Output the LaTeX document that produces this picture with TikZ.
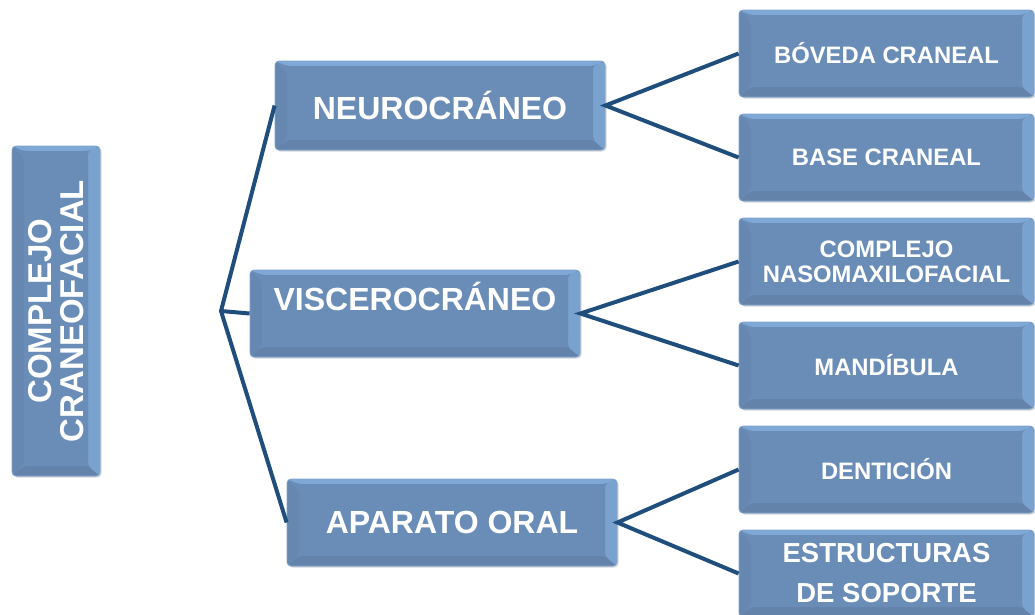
\documentclass[tikz,border=0pt]{standalone}
\usepackage{fontspec}
\setmainfont{Liberation Sans}
\usetikzlibrary{shadows}
\definecolor{boxmain}{HTML}{6A8DB8}
\definecolor{boxtop}{HTML}{80A8D6}
\definecolor{boxright}{HTML}{7AA2CF}
\definecolor{boxbottom}{HTML}{6483AA}
\definecolor{boxleft}{HTML}{6687B0}
\definecolor{boxedge}{HTML}{7FA3CC}
\definecolor{linkcol}{HTML}{1F4E7C}
\definecolor{shadowcol}{HTML}{C9CDD3}
\tikzset{
  x=1pt, y=-1pt,
  bevelbox/.style={rounded corners=4pt, fill=boxmain, draw=boxedge, line width=0.8pt,
    inner sep=0pt, align=center, text=white, font=\bfseries,
    drop shadow={shadow xshift=1.5pt, shadow yshift=-1.5pt, fill=shadowcol, opacity=0.8},
    path picture={
      \coordinate (nw) at (path picture bounding box.north west);
      \coordinate (ne) at (path picture bounding box.north east);
      \coordinate (sw) at (path picture bounding box.south west);
      \coordinate (se) at (path picture bounding box.south east);
      \fill[boxleft] (nw) -- ([xshift=12pt,yshift=-12pt]nw) -- ([xshift=12pt,yshift=12pt]sw) -- (sw) -- cycle;
      \fill[boxbottom] (sw) -- ([xshift=12pt,yshift=10pt]sw) -- ([xshift=-12pt,yshift=10pt]se) -- (se) -- cycle;
      \fill[boxright] (ne) -- ([xshift=-12pt,yshift=-5pt]ne) -- ([xshift=-12pt,yshift=10pt]se) -- (se) -- cycle;
      \fill[boxtop] (nw) -- (ne) -- ([xshift=-12pt,yshift=-5pt]ne) -- ([xshift=12pt,yshift=-5pt]nw) -- cycle;
      \fill[boxmain] ([xshift=12pt,yshift=-5pt]nw) rectangle ([xshift=-12pt,yshift=10pt]se);
    }},
  link/.style={draw=linkcol, line width=4pt},
  big/.style={font=\bfseries\fontsize{32}{34}\selectfont},
  small/.style={font=\bfseries\fontsize{23.8}{25}\selectfont},
  mid/.style={font=\bfseries\fontsize{27.5}{40}\selectfont},
}
\begin{document}
\begin{tikzpicture}
\useasboundingbox (0,0) rectangle (1035,614);
% left root
\node[bevelbox, minimum width=88pt, minimum height=330pt] (root) at (56,311) {};
\node[font=\bfseries\fontsize{33}{32}\selectfont, text=white, rotate=90, align=center] (roott) at (root.center) {COMPLEJO\\CRANEOFACIAL};
% middle
\node[bevelbox, big, minimum width=330pt, minimum height=89pt] (neuro) at (440,105.5) {NEUROCRÁNEO};
\node[bevelbox, minimum width=330pt, minimum height=87pt] (visc) at (415,313.5) {};
\node[big, text=white] (visct) at (415,296) {VISCEROCRÁNEO};
\node[bevelbox, big, minimum width=330pt, minimum height=87pt] (oral) at (452,522.5) {APARATO ORAL};
% right
\node[bevelbox, small, minimum width=295pt, minimum height=87pt] (bov) at (886.5,53.5) {BÓVEDA CRANEAL};
\node[bevelbox, small, minimum width=295pt, minimum height=87pt] (base) at (886.5,157.5) {BASE CRANEAL};
\node[bevelbox, font=\bfseries\fontsize{23.8}{25}\selectfont, minimum width=295pt, minimum height=87pt] (naso) at (886.5,261.5) {COMPLEJO\\NASOMAXILOFACIAL};
\node[bevelbox, small, minimum width=295pt, minimum height=87pt] (mand) at (886.5,365.5) {MANDÍBULA};
\node[bevelbox, small, minimum width=295pt, minimum height=87pt] (dent) at (886.5,469.5) {DENTICIÓN};
\node[bevelbox, mid, minimum width=295pt, minimum height=87pt] (estr) at (886.5,573.5) {ESTRUCTURAS\\DE SOPORTE};
% connectors
\coordinate (j) at (221,311);
\draw[link] (neuro.west) -- (j) -- (oral.west);
\draw[link] (j) -- (visc.west);
\draw[link] (bov.west) -- (neuro.east) -- (base.west);
\draw[link] (naso.west) -- (visc.east) -- (mand.west);
\draw[link] (dent.west) -- (oral.east) -- (estr.west);
\end{tikzpicture}
\end{document}
